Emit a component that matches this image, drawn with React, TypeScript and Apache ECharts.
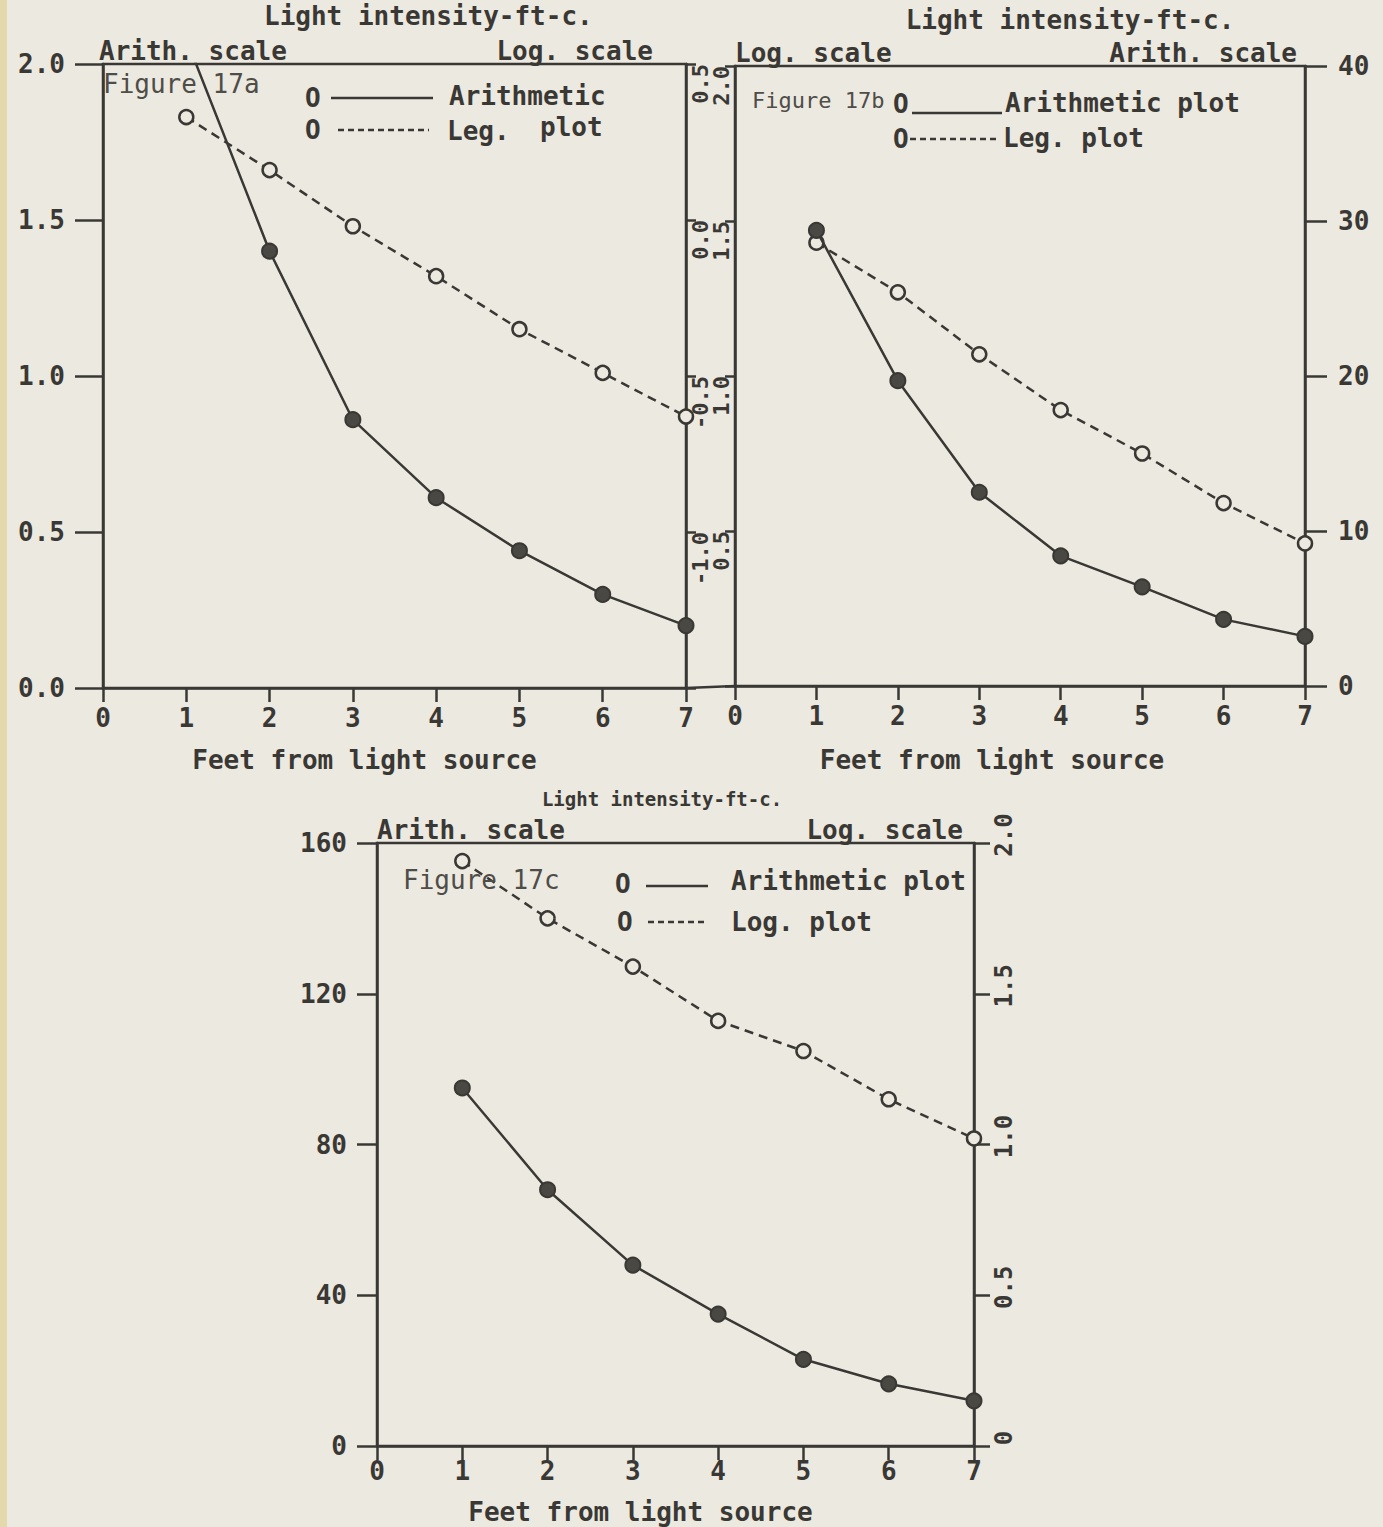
import React, { useEffect, useRef } from "react";
import * as echarts from "echarts";

const INK = "#3a3834";
const PAPER = "#ECE9E0";
const FONT = "'DejaVu Sans Mono', 'Liberation Mono', monospace";
const TYPE = 26;

// shared x values (feet from light source) and x tick labels
const feet = [1, 2, 3, 4, 5, 6, 7];
const xTickLabels = ["0", "1", "2", "3", "4", "5", "6", "7"];

// Figure 17a
const aArith = [2.08, 1.4, 0.86, 0.61, 0.44, 0.3, 0.2];
const aLog = [0.33, 0.16, -0.02, -0.18, -0.35, -0.49, -0.63];
const aArithTicks = ["0.0", "0.5", "1.0", "1.5", "2.0"];
const aLogTicks = ["", "-1.0", "-0.5", "0.0", "0.5"];

// Figure 17b
const bArith = [29.4, 19.7, 12.5, 8.4, 6.4, 4.3, 3.2];
const bLog = [1.43, 1.27, 1.07, 0.89, 0.75, 0.59, 0.46];
const bArithTicks = ["0", "10", "20", "30", "40"];
const bLogTicks = ["", "0.5", "1.0", "1.5", "2.0"];

// Figure 17c
const cArith = [95, 68, 48, 35, 23, 16.5, 12];
const cLog = [1.94, 1.75, 1.59, 1.41, 1.31, 1.15, 1.02];
const cArithTicks = ["0", "40", "80", "120", "160"];
const cLogTicks = ["0", "0.5", "1.0", "1.5", "2.0"];

const lab = (arr: string[], min: number, step: number) => (v: number) =>
  arr[Math.round((v - min) / step)] ?? "";

const pts = (ys: number[]) => feet.map((f, i) => [f, ys[i]]);

const axisLine = { show: true, onZero: false, lineStyle: { color: INK, width: 2.5 } };
const numFont = { color: INK, fontFamily: FONT, fontWeight: "bold" as const };

function xAxisDef(gridIndex: number, margin: number, nameGap: number, namePad: number[]) {
  return {
    type: "value",
    gridIndex,
    min: 0,
    max: 7,
    interval: 1,
    axisLine,
    axisTick: { show: true, length: 14, lineStyle: { color: INK, width: 2.5 } },
    axisLabel: { ...numFont, fontSize: TYPE, margin, formatter: lab(xTickLabels, 0, 1) },
    splitLine: { show: false },
    name: "Feet from light source",
    nameLocation: "middle",
    nameGap,
    nameTextStyle: { ...numFont, fontSize: TYPE, padding: namePad },
  };
}

function yAxisDef(o: any) {
  return {
    type: "value",
    gridIndex: o.grid,
    position: o.pos,
    min: o.min,
    max: o.max,
    interval: o.step,
    axisLine,
    axisTick: { show: true, length: o.tick, lineStyle: { color: INK, width: 2.5 } },
    axisLabel: {
      ...numFont,
      fontSize: o.fs ?? TYPE,
      margin: o.margin,
      rotate: o.rotate ?? 0,
      align: o.align,
      verticalAlign: o.valign,
      padding: o.lpad ?? 0,
      formatter: lab(o.ticks, o.min, o.step),
    },
    splitLine: { show: false },
    name: o.name,
    nameLocation: "end",
    nameGap: 0,
    nameTextStyle: {
      ...numFont,
      fontSize: TYPE,
      align: o.nalign,
      verticalAlign: "bottom",
      padding: o.npad ?? 0,
    },
  };
}

function arithSeries(x: number, y: number, data: number[]) {
  return {
    type: "line",
    xAxisIndex: x,
    yAxisIndex: y,
    data: pts(data),
    clip: true,
    symbol: "circle",
    symbolSize: 15,
    itemStyle: { color: "#4a4843", borderColor: INK, borderWidth: 2 },
    lineStyle: { color: INK, width: 2.5 },
    z: 3,
  };
}

function logSeries(x: number, y: number, data: number[]) {
  return {
    type: "line",
    xAxisIndex: x,
    yAxisIndex: y,
    data: pts(data),
    clip: true,
    symbol: "circle",
    symbolSize: 14,
    itemStyle: { color: PAPER, borderColor: INK, borderWidth: 2.5 },
    lineStyle: { color: INK, width: 2.5, type: [9, 6] },
    z: 2,
  };
}

const txt = (x: number, y: number, text: string, extra: any = {}) => ({
  type: "text",
  x,
  y,
  z: 10,
  style: {
    text,
    fill: INK,
    font: `bold ${TYPE}px ${FONT}`,
    align: "left",
    verticalAlign: "middle",
    ...extra,
  },
});
const fig = (x: number, y: number, text: string, size = TYPE) =>
  txt(x, y, text, { font: `${size}px ${FONT}`, fill: "#4f4d48" });
const seg = (x1: number, y1: number, x2: number, y2: number, dash?: number[]) => ({
  type: "line",
  z: 10,
  shape: { x1, y1, x2, y2 },
  style: { stroke: INK, lineWidth: 2.5, lineDash: dash },
});

const gridStyle = { show: true, borderColor: INK, borderWidth: 2.5, backgroundColor: "transparent" };

const option: any = {
  animation: false,
  backgroundColor: PAPER,
  grid: [
    { left: 103, top: 64, width: 583, height: 624, ...gridStyle },
    { left: 735, top: 66, width: 570, height: 620, ...gridStyle },
    { left: 377, top: 843, width: 597, height: 603, ...gridStyle },
  ],
  xAxis: [
    xAxisDef(0, 17, 59, [0, 60, 0, 0]),
    xAxisDef(1, 17, 61, [0, 56, 0, 0]),
    xAxisDef(2, 12, 53, [0, 70, 0, 0]),
  ],
  yAxis: [
    yAxisDef({ grid: 0, pos: "left", min: 0, max: 2, step: 0.5, ticks: aArithTicks, tick: 28, margin: 38, name: "Arith. scale", nalign: "left", npad: [0, 0, 0, -4] }),
    yAxisDef({ grid: 0, pos: "right", min: -1.5, max: 0.5, step: 0.5, ticks: aLogTicks, tick: 10, margin: 3, rotate: 90, align: "right", valign: "top", fs: 22, name: "Log. scale", nalign: "right", npad: [0, 33, 0, 0] }),
    yAxisDef({ grid: 1, pos: "left", min: 0, max: 2, step: 0.5, ticks: bLogTicks, tick: 10, margin: 3, rotate: 90, align: "right", valign: "bottom", fs: 22, name: "Log. scale", nalign: "left" }),
    yAxisDef({ grid: 1, pos: "right", min: 0, max: 40, step: 10, ticks: bArithTicks, tick: 22, margin: 33, name: "Arith. scale", nalign: "right", npad: [0, 8, 0, 0] }),
    yAxisDef({ grid: 2, pos: "left", min: 0, max: 160, step: 40, ticks: cArithTicks, tick: 20, margin: 30, name: "Arith. scale", nalign: "left" }),
    yAxisDef({ grid: 2, pos: "right", min: 0, max: 2, step: 0.5, ticks: cLogTicks, tick: 16, margin: 18, rotate: 90, align: "center", valign: "top", fs: 24, lpad: [0, 0, 0, 16], name: "Log. scale", nalign: "right", npad: [0, 11, 0, 0] }),
  ],
  series: [
    arithSeries(0, 0, aArith),
    logSeries(0, 1, aLog),
    arithSeries(1, 3, bArith),
    logSeries(1, 2, bLog),
    arithSeries(2, 4, cArith),
    logSeries(2, 5, cLog),
  ],
  graphic: [
    { type: "rect", shape: { x: 0, y: 0, width: 7, height: 1527 }, style: { fill: "#E4D9AC" }, z: 0 },
    // bottom axis join between 17a and 17b
    seg(686, 688, 735, 686),
    // titles
    txt(264, 16, "Light intensity-ft-c."),
    txt(1070, 20, "Light intensity-ft-c.", { align: "center" }),
    txt(662, 799, "Light intensity-ft-c.", { align: "center", font: `bold 19px ${FONT}` }),
    // 17a legend
    fig(103, 84, "Figure 17a"),
    txt(305, 98, "O"),
    seg(331, 98, 433, 98),
    txt(449, 96, "Arithmetic"),
    txt(305, 130, "O"),
    seg(338, 130, 429, 130, [6, 4]),
    txt(447, 131, "Leg."),
    txt(540, 127, "plot"),
    // 17b legend
    fig(752, 100, "Figure 17b", 22),
    txt(893, 104, "O"),
    seg(912, 113, 1002, 113),
    txt(1005, 103, "Arithmetic plot"),
    txt(893, 139, "O"),
    seg(910, 139, 1000, 139, [6, 4]),
    txt(1003, 138, "Leg. plot"),
    // 17c legend
    fig(403, 880, "Figure 17c"),
    txt(615, 884, "O"),
    seg(646, 886, 708, 886),
    txt(731, 881, "Arithmetic plot"),
    txt(617, 922, "O"),
    seg(648, 922, 708, 922, [6, 4]),
    txt(731, 922, "Log. plot"),
  ],
};

export default function App() {
  const ref = useRef<HTMLDivElement>(null);
  useEffect(() => {
    document.body.style.margin = "0";
    const chart = echarts.init(ref.current!, null, { renderer: "svg" });
    chart.setOption(option);
    return () => chart.dispose();
  }, []);
  return (
    <div
      ref={ref}
      style={{ position: "absolute", left: 0, top: 0, width: 1383, height: 1527 }}
    />
  );
}
